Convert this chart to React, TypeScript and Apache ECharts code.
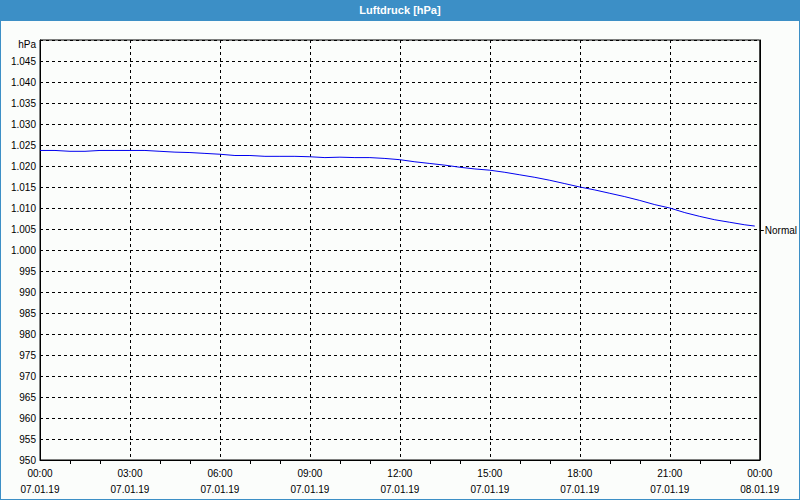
import React, { useEffect, useRef } from "react";
import * as echarts from "echarts";

const TITLE = "Luftdruck [hPa]";
const UNIT = "hPa";
const NORMAL_LABEL = "Normal";
const NORMAL_VALUE = 1004.6;

const times = [
  "00:00", "00:30", "01:00", "01:30", "02:00", "02:30", "03:00", "03:30",
  "04:00", "04:30", "05:00", "05:30", "06:00", "06:30", "07:00", "07:30",
  "08:00", "08:30", "09:00", "09:30", "10:00", "10:30", "11:00", "11:30",
  "12:00", "12:30", "13:00", "13:30", "14:00", "14:30", "15:00", "15:30",
  "16:00", "16:30", "17:00", "17:30", "18:00", "18:30", "19:00", "19:30",
  "20:00", "20:30", "21:00", "21:30", "22:00", "22:30", "23:00", "23:30",
  "23:50",
];

const pressure = [
  1023.7, 1023.7, 1023.5, 1023.5, 1023.7, 1023.7, 1023.7, 1023.7,
  1023.5, 1023.3, 1023.2, 1023.0, 1022.8, 1022.5, 1022.5, 1022.3,
  1022.3, 1022.3, 1022.2, 1022.0, 1022.1, 1022.0, 1022.0, 1021.8,
  1021.5, 1021.0, 1020.6, 1020.2, 1019.7, 1019.3, 1019.0, 1018.5,
  1017.9, 1017.3, 1016.6, 1015.8, 1015.0, 1014.3, 1013.5, 1012.7,
  1011.8, 1010.8, 1010.0, 1008.9, 1008.0, 1007.2, 1006.6, 1006.0,
  1005.7,
];

const xTickHours = [0, 3, 6, 9, 12, 15, 18, 21, 24];
const xTickTimes = ["00:00", "03:00", "06:00", "09:00", "12:00", "15:00", "18:00", "21:00", "00:00"];
const xTickDates = ["07.01.19", "07.01.19", "07.01.19", "07.01.19", "07.01.19", "07.01.19", "07.01.19", "07.01.19", "08.01.19"];

const Y_MIN = 950;
const Y_MAX = 1050;
const Y_STEP = 5;

const toHours = (t: string) => {
  const [h, m] = t.split(":").map(Number);
  return h + m / 60;
};

const fmtPressure = (v: number) => {
  if (Math.abs(v - Y_MAX) < 0.01) return UNIT;
  if (v >= 1000) {
    const rest = Math.round(v - 1000);
    return "1." + String(rest).padStart(3, "0");
  }
  return String(Math.round(v));
};

const FONT = "Liberation Sans";

export default function App() {
  const ref = useRef<HTMLDivElement>(null);
  useEffect(() => {
    if (!ref.current) return;
    const chart = echarts.init(ref.current, undefined, { renderer: "svg" });
    const data = times.map((t, i) => [toHours(t), pressure[i]]);
    chart.setOption({
      animation: false,
      backgroundColor: "#fbfdfb",
      title: {
        text: TITLE,
        left: "center",
        top: 4,
        padding: 0,
        textStyle: { color: "#ffffff", fontSize: 11, fontWeight: "bold", fontFamily: FONT },
      },
      graphic: [
        {
          type: "rect",
          z: -10,
          shape: { x: 0, y: 0, width: 800, height: 21 },
          style: { fill: "#3c8fc6" },
        },
        {
          type: "rect",
          z: 100,
          shape: { x: 0, y: 0, width: 800, height: 500 },
          style: { fill: "none", stroke: "#3c8fc6", lineWidth: 2 },
        },
      ],
      grid: {
        left: 40,
        top: 40,
        width: 720,
        height: 420,
        show: true,
        borderColor: "#000",
        borderWidth: 1,
        backgroundColor: "transparent",
      },
      xAxis: {
        type: "value",
        min: 0,
        max: 24,
        interval: 3,
        axisLine: { show: true, lineStyle: { color: "#000", width: 1 } },
        axisTick: { show: false },
        minorTick: { show: true, splitNumber: 3, length: 4, lineStyle: { color: "#000", width: 1 } },
        splitLine: { show: true, lineStyle: { color: "#000", type: [3, 3], width: 1 } },
        axisLabel: {
          margin: 5,
          fontSize: 10,
          lineHeight: 16,
          color: "#000",
          fontFamily: FONT,
          formatter: (v: number) => {
            const i = xTickHours.indexOf(Math.round(v));
            if (i < 0) return "";
            return xTickTimes[i] + "\n" + xTickDates[i];
          },
        },
      },
      yAxis: [
        {
          type: "value",
          min: Y_MIN,
          max: Y_MAX,
          interval: Y_STEP,
          axisLine: { show: true, lineStyle: { color: "#000", width: 1 } },
          axisTick: { show: false },
          splitLine: { show: true, lineStyle: { color: "#000", type: [3, 3], width: 1 } },
          axisLabel: {
            margin: 4,
            fontSize: 10,
            color: "#000",
            fontFamily: FONT,
            formatter: (v: number) =>
              Math.abs(v - Y_MAX) < 0.01 ? "{u|" + UNIT + "}" : fmtPressure(v),
            rich: { u: { fontSize: 10, fontFamily: FONT, color: "#000", padding: [8, 0, 0, 0] } },
          },
        },
        {
          type: "value",
          position: "right",
          min: Y_MIN,
          max: Y_MAX,
          axisLine: { show: true, lineStyle: { color: "#000", width: 1 } },
          splitLine: { show: false },
          axisTick: {
            show: true,
            length: 4,
            customValues: [NORMAL_VALUE],
            lineStyle: { color: "#000", width: 1 },
          },
          axisLabel: {
            show: true,
            margin: 5,
            fontSize: 10,
            color: "#000",
            fontFamily: FONT,
            customValues: [NORMAL_VALUE],
            formatter: () => NORMAL_LABEL,
          },
        },
      ],
      series: [
        {
          type: "line",
          yAxisIndex: 0,
          data,
          showSymbol: false,
          symbol: "none",
          lineStyle: { color: "#0000f0", width: 1 },
          silent: true,
        },
      ],
    });
    return () => chart.dispose();
  }, []);
  return (
    <div
      ref={ref}
      style={{ position: "fixed", left: 0, top: 0, width: 800, height: 500 }}
    />
  );
}
